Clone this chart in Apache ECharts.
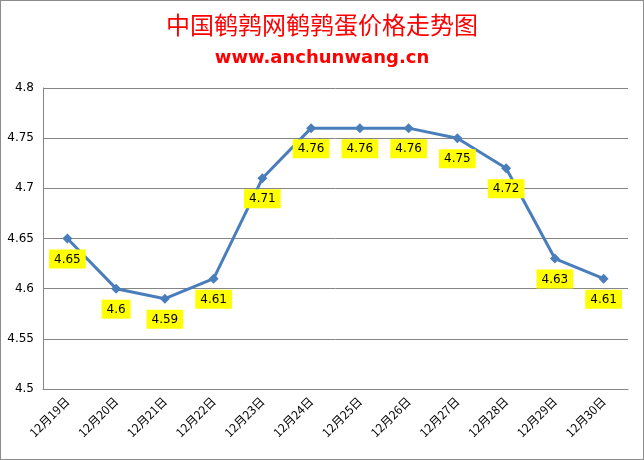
<!DOCTYPE html>
<html><head><meta charset="utf-8">
<script src="https://cdn.jsdelivr.net/npm/echarts@6/dist/echarts.min.js"></script>
<style>html,body{margin:0;padding:0;background:#fff}#c{width:644px;height:460px;box-sizing:border-box;border:1px solid #8c8c8c}</style>
</head><body><div id="c"></div>
<script>
const categories = ['12月19日','12月20日','12月21日','12月22日','12月23日','12月24日','12月25日','12月26日','12月27日','12月28日','12月29日','12月30日'];
const prices = [4.65,4.6,4.59,4.61,4.71,4.76,4.76,4.76,4.75,4.72,4.63,4.61];
const yTicks = {min:4.5, max:4.8, interval:0.05};
const chart = echarts.init(document.getElementById('c'));
chart.setOption({
  animation:false,
  backgroundColor:'#fff',
  title:[
    {text:'中国鹌鹑网鹌鹑蛋价格走势图', left:'center', top:7, textStyle:{color:'#ff0000', fontSize:24, fontWeight:'normal', fontFamily:'Noto Sans CJK SC'}},
    {text:'www.anchunwang.cn', left:'center', top:43, textStyle:{color:'#ff0000', fontSize:18, fontWeight:'bold', fontFamily:'DejaVu Sans'}}
  ],
  grid:{left:42, right:15, top:87, bottom:70, containLabel:false},
  xAxis:{type:'category', data:categories, boundaryGap:true,
    axisLine:{lineStyle:{color:'#868686'}}, axisTick:{show:false},
    axisLabel:{rotate:45, color:'#000', fontSize:12, fontFamily:'Noto Sans CJK SC', margin:10, interval:0}},
  yAxis:{type:'value', min:yTicks.min, max:yTicks.max, interval:yTicks.interval,
    axisLine:{show:true, lineStyle:{color:'#868686'}}, axisTick:{show:false},
    splitLine:{lineStyle:{color:'#868686'}},
    axisLabel:{color:'#000', fontSize:12, fontFamily:'DejaVu Sans', margin:9,
      formatter:v=>String(parseFloat(v.toFixed(2)))}},
  series:[{type:'line', data:prices, symbol:'diamond', symbolSize:10,
    lineStyle:{color:'#4a7ebb', width:3}, itemStyle:{color:'#4a7ebb'},
    label:{show:true, position:'bottom', distance:6, backgroundColor:'#ffff00', color:'#000', fontSize:12, fontFamily:'DejaVu Sans', padding:[4,5,3,5],
      formatter:p=>String(p.value)}}]
});
</script></body></html>
